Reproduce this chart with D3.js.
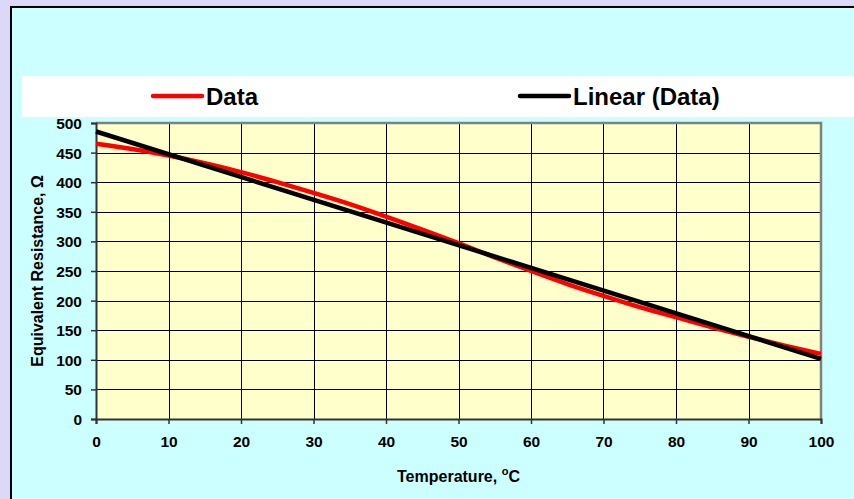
<!DOCTYPE html>
<html>
<head>
<meta charset="utf-8">
<script src="https://cdn.jsdelivr.net/npm/d3@7"></script>
<style>
  html, body { margin: 0; padding: 0; background: #dcd8f8; }
  svg { display: block; font-family: Arial, "Liberation Sans", sans-serif; font-weight: bold; }
</style>
</head>
<body>
<div id="chart"></div>
<script>
// CHART DATA
const temperature = [0, 5, 10, 15, 20, 25, 30, 35, 40, 45, 50, 55, 60, 65, 70, 75, 80, 85, 90, 95, 100];
const resistance  = [465, 456, 445, 432, 417, 400, 382, 363, 342, 320, 297, 273, 250, 228, 208, 189, 172, 155, 139, 124, 110];
const xTicks = [0, 10, 20, 30, 40, 50, 60, 70, 80, 90, 100];
const yTicks = [0, 50, 100, 150, 200, 250, 300, 350, 400, 450, 500];
const seriesNames = ['Data', 'Linear (Data)'];

const W = 854, H = 499;
const plot = { left: 96, right: 821, top: 123, bottom: 419 };

const svg = d3.select('#chart').append('svg').attr('width', W).attr('height', H);

// Outer lavender background and cyan chart panel
svg.append('rect').attr('x', 0).attr('y', 0).attr('width', W).attr('height', H).attr('fill', '#dcd8f8');
svg.append('rect').attr('x', 11).attr('y', 7).attr('width', W + 20).attr('height', H + 20)
  .attr('fill', '#ccffff').attr('stroke', '#000').attr('stroke-width', 2);

// Legend band
svg.append('rect').attr('x', 22).attr('y', 76).attr('width', W).attr('height', 41).attr('fill', '#fff');

const x = d3.scaleLinear().domain([0, 100]).range([plot.left, plot.right]);
const y = d3.scaleLinear().domain([0, 500]).range([plot.bottom, plot.top]);

// Plot area
svg.append('rect').attr('x', plot.left).attr('y', plot.top)
  .attr('width', plot.right - plot.left).attr('height', plot.bottom - plot.top)
  .attr('fill', '#ffffcc');

// Gridlines
const grid = svg.append('g').attr('stroke', '#000').attr('stroke-width', 1).attr('shape-rendering', 'crispEdges');
grid.selectAll('.hg').data(yTicks.slice(1, -1)).enter().append('line')
  .attr('x1', plot.left).attr('x2', plot.right)
  .attr('y1', d => Math.round(y(d)) + 0.5).attr('y2', d => Math.round(y(d)) + 0.5);
grid.selectAll('.vg').data(xTicks.slice(1, -1)).enter().append('line')
  .attr('y1', plot.top).attr('y2', plot.bottom)
  .attr('x1', d => Math.round(x(d)) + 0.5).attr('x2', d => Math.round(x(d)) + 0.5);

// Grey frame on top and right
svg.append('path')
  .attr('d', `M${plot.left},${plot.top} H${plot.right} V${plot.bottom}`)
  .attr('fill', 'none').attr('stroke', '#808080').attr('stroke-width', 2.5);

// Axes
const xAxis = d3.axisBottom(x).tickValues(xTicks).tickSize(5).tickPadding(12);
const yAxis = d3.axisLeft(y).tickValues(yTicks).tickSize(5).tickPadding(9);

const gx = svg.append('g').attr('transform', `translate(0,${plot.bottom})`).call(xAxis);
const gy = svg.append('g').attr('transform', `translate(${plot.left},0)`).call(yAxis);

[gx, gy].forEach(g => {
  g.select('.domain').attr('stroke', '#333').attr('stroke-width', 2);
  g.selectAll('.tick line').attr('stroke', '#333').attr('stroke-width', 1.5);
  g.selectAll('.tick text').attr('fill', '#000')
    .style('font-family', 'Arial, "Liberation Sans", sans-serif')
    .style('font-weight', 'bold').style('font-size', '15.5px');
});
gy.selectAll('.tick text').attr('dy', '0.36em');

// Series: measured data and its least squares trend line
const mx = d3.mean(temperature), my = d3.mean(resistance);
const slope = d3.sum(temperature, (t, i) => (t - mx) * (resistance[i] - my)) /
              d3.sum(temperature, t => (t - mx) * (t - mx));
const intercept = my - slope * mx;
const trend = [0, 100].map(t => [t, intercept + slope * t]);

const line = d3.line().x(d => x(d[0])).y(d => y(d[1])).curve(d3.curveMonotoneX);

svg.append('path').datum(temperature.map((t, i) => [t, resistance[i]]))
  .attr('d', line).attr('fill', 'none').attr('stroke', '#ff0000')
  .attr('stroke-width', 4.5).attr('stroke-linejoin', 'round');

svg.append('path').datum(trend)
  .attr('d', d3.line().x(d => x(d[0])).y(d => y(d[1])))
  .attr('fill', 'none').attr('stroke', '#000').attr('stroke-width', 4.5);

// Legend
const legendItems = [
  { name: seriesNames[0], color: '#ff0000', x0: 153 },
  { name: seriesNames[1], color: '#000000', x0: 520 }
];
const lg = svg.selectAll('.legend-item').data(legendItems).enter().append('g');
lg.append('line')
  .attr('x1', d => d.x0).attr('x2', d => d.x0 + 49)
  .attr('y1', 96).attr('y2', 96)
  .attr('stroke', d => d.color).attr('stroke-width', 4.5).attr('stroke-linecap', 'round');
lg.append('text')
  .attr('x', d => d.x0 + 53).attr('y', 105)
  .style('font-size', '24px').attr('fill', '#000')
  .text(d => d.name);

// Axis titles
const xt = svg.append('text')
  .attr('x', (plot.left + plot.right) / 2).attr('y', 482)
  .attr('text-anchor', 'middle').style('font-size', '16px');
xt.append('tspan').text('Temperature, ');
xt.append('tspan').attr('dy', -7).style('font-size', '11px').text('o');
xt.append('tspan').attr('dy', 7).text('C');

svg.append('text')
  .attr('transform', `translate(43,${(plot.top + plot.bottom) / 2}) rotate(-90)`)
  .attr('text-anchor', 'middle').style('font-size', '16px')
  .text('Equivalent Resistance, \u03A9');
</script>
</body>
</html>
